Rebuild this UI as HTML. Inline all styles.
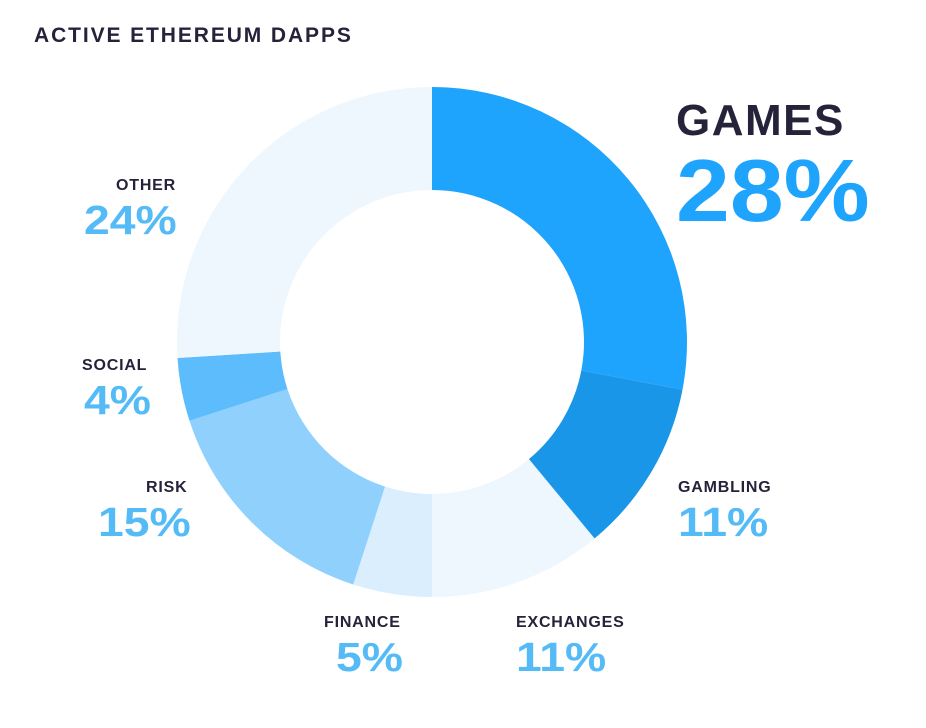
<!DOCTYPE html>
<html><head><meta charset="utf-8">
<style>
html,body{margin:0;padding:0;background:#fff;}
body{width:926px;height:728px;position:relative;overflow:hidden;font-family:"Liberation Sans",sans-serif;}
.t{position:absolute;color:#25233a;font-weight:bold;}
.lab{position:absolute;color:#25233a;font-weight:bold;font-size:16px;letter-spacing:0.8px;}
.val{position:absolute;color:#55bbf7;font-weight:bold;font-size:41px;transform:scaleX(1.13);transform-origin:left top;}
</style></head><body>
<div class="t" style="left:34px;top:24px;font-size:21px;letter-spacing:1.9px;">ACTIVE ETHEREUM DAPPS</div>
<svg id="chart" width="926" height="728" style="position:absolute;left:0;top:0"></svg>
<div class="t" style="left:676px;top:96px;font-size:44px;letter-spacing:1.5px;">GAMES</div>
<div class="t" style="left:676px;top:140px;font-size:88px;color:#1ea4fd;transform:scaleX(1.1);transform-origin:left top;">28%</div>
<div class="lab" style="left:116px;top:177px;">OTHER</div>
<div class="val" style="left:84px;top:197px;">24%</div>
<div class="lab" style="left:82px;top:357px;">SOCIAL</div>
<div class="val" style="left:84px;top:377px;">4%</div>
<div class="lab" style="left:146px;top:479px;">RISK</div>
<div class="val" style="left:98px;top:499px;">15%</div>
<div class="lab" style="left:678px;top:479px;">GAMBLING</div>
<div class="val" style="left:678px;top:499px;">11%</div>
<div class="lab" style="left:324px;top:614px;">FINANCE</div>
<div class="val" style="left:336px;top:634px;">5%</div>
<div class="lab" style="left:516px;top:614px;">EXCHANGES</div>
<div class="val" style="left:516px;top:634px;">11%</div>
<script>
const categories = ["Games","Gambling","Exchanges","Finance","Risk","Social","Other"];
const values = [28,11,11,5,15,4,24];
const colors = ["#1ea4fd","#1a96e8","#eef6fe","#dbeefe","#8fd0fd","#5cbcfc","#eef6fe"];
const cx=432, cy=342, R=255, r=152;
const svg=document.getElementById('chart');
function pt(a,rad){return [cx+rad*Math.sin(a), cy-rad*Math.cos(a)];}
let acc=0;
values.forEach((v,i)=>{
  const a0=acc/100*2*Math.PI; acc+=v;
  const a1=(i===values.length-1)?2*Math.PI:acc/100*2*Math.PI;
  const large=(a1-a0)>Math.PI?1:0;
  const p0=pt(a0,R),p1=pt(a1,R),q1=pt(a1,r),q0=pt(a0,r);
  const d=`M${p0[0]},${p0[1]} A${R},${R} 0 ${large} 1 ${p1[0]},${p1[1]} L${q1[0]},${q1[1]} A${r},${r} 0 ${large} 0 ${q0[0]},${q0[1]} Z`;
  const p=document.createElementNS('http://www.w3.org/2000/svg','path');
  p.setAttribute('d',d); p.setAttribute('fill',colors[i]);
  
  
  svg.appendChild(p);
});
</script>
</body></html>
